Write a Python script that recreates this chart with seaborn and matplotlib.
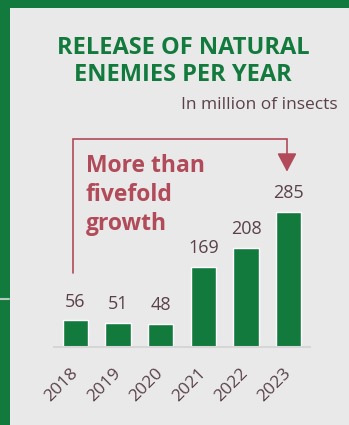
import matplotlib
matplotlib.use("Agg")
import matplotlib.pyplot as plt
import seaborn as sns
import pandas as pd
from matplotlib.patches import Rectangle
from matplotlib.lines import Line2D

years = ["2018", "2019", "2020", "2021", "2022", "2023"]
values = [56, 51, 48, 169, 208, 285]

title = "RELEASE OF NATURAL\nENEMIES PER YEAR"
subtitle = "In million of insects"
note = "More than\nfivefold\ngrowth"

BG = "#e9e9e9"
GREEN = "#137a3d"
TXT = "#5a4149"
RED = "#b14a59"

sns.set_theme(style="white")
plt.rcParams["font.family"] = ["Open Sans", "DejaVu Sans"]

W, H = 349, 425
fig = plt.figure(figsize=(W / 100, H / 100), dpi=100)
fig.patch.set_facecolor(BG)

# border bands
fig.add_artist(Rectangle((0, 1 - 8 / H), 1, 8 / H, transform=fig.transFigure, color=GREEN, lw=0))
fig.add_artist(Rectangle((0, 0), 10 / W, 1, transform=fig.transFigure, color=GREEN, lw=0))
fig.add_artist(Line2D([0, 9 / W], [1 - 299 / H, 1 - 299 / H], transform=fig.transFigure, color="#b9c9bd", lw=1.5))

ax = fig.add_axes([54 / W, 78 / H, 256 / W, 228 / H])
ax.set_facecolor(BG)
df = pd.DataFrame({"year": years, "value": values})
sns.barplot(data=df, x="year", y="value", color=GREEN, width=0.59, saturation=1, ax=ax)
ax.set_xlim(-0.5, 5.5)
ax.set_ylim(0, 480)
for s in ["top", "right", "left"]:
    ax.spines[s].set_visible(False)
ax.spines["bottom"].set_color("#d6d6d6")
ax.spines["bottom"].set_linewidth(1.5)
ax.set_yticks([])
ax.set_xlabel("")
ax.set_ylabel("")
ax.tick_params(axis="x", length=0, pad=17)
for lab in ax.get_xticklabels():
    lab.set_rotation(45)
    lab.set_ha("right")
    lab.set_va("center")
    lab.set_rotation_mode("anchor")
    lab.set_fontsize(12.5)
    lab.set_color(TXT)

for i, v in enumerate(values):
    ax.annotate(str(v), (i, v), xytext=(0, 7), textcoords="offset points",
                ha="center", va="bottom", fontsize=13, color=TXT)

# bracket
xl, xr = -0.066, 4.96
ytop, ybot, ytip = 438, 156, 369
ax.plot([xl, xl, xr, xr], [ybot, ytop, ytop, ytip + 25], color=RED, lw=1.2, clip_on=False,
        solid_joinstyle="miter")
ax.annotate("", xy=(xr, ytip), xytext=(xr, ytip + 34),
            arrowprops=dict(arrowstyle="-|>,head_length=0.95,head_width=0.5", color=RED, lw=1.2,
                            shrinkA=0, shrinkB=0), annotation_clip=False)

ax.text(0.25, 406, note, ha="left", va="top", fontsize=16.5, fontweight="bold", color=RED,
        linespacing=1.26)

fig.text(183 / W, 1 - 61.5 / H, title, ha="center", va="center", fontsize=17, fontweight="bold",
         color=GREEN, linespacing=1.17)
fig.text(338 / W, 1 - 105 / H, subtitle, ha="right", va="center", fontsize=12.5,
         color=TXT)

fig.savefig("out.png", dpi=100, facecolor=BG)
